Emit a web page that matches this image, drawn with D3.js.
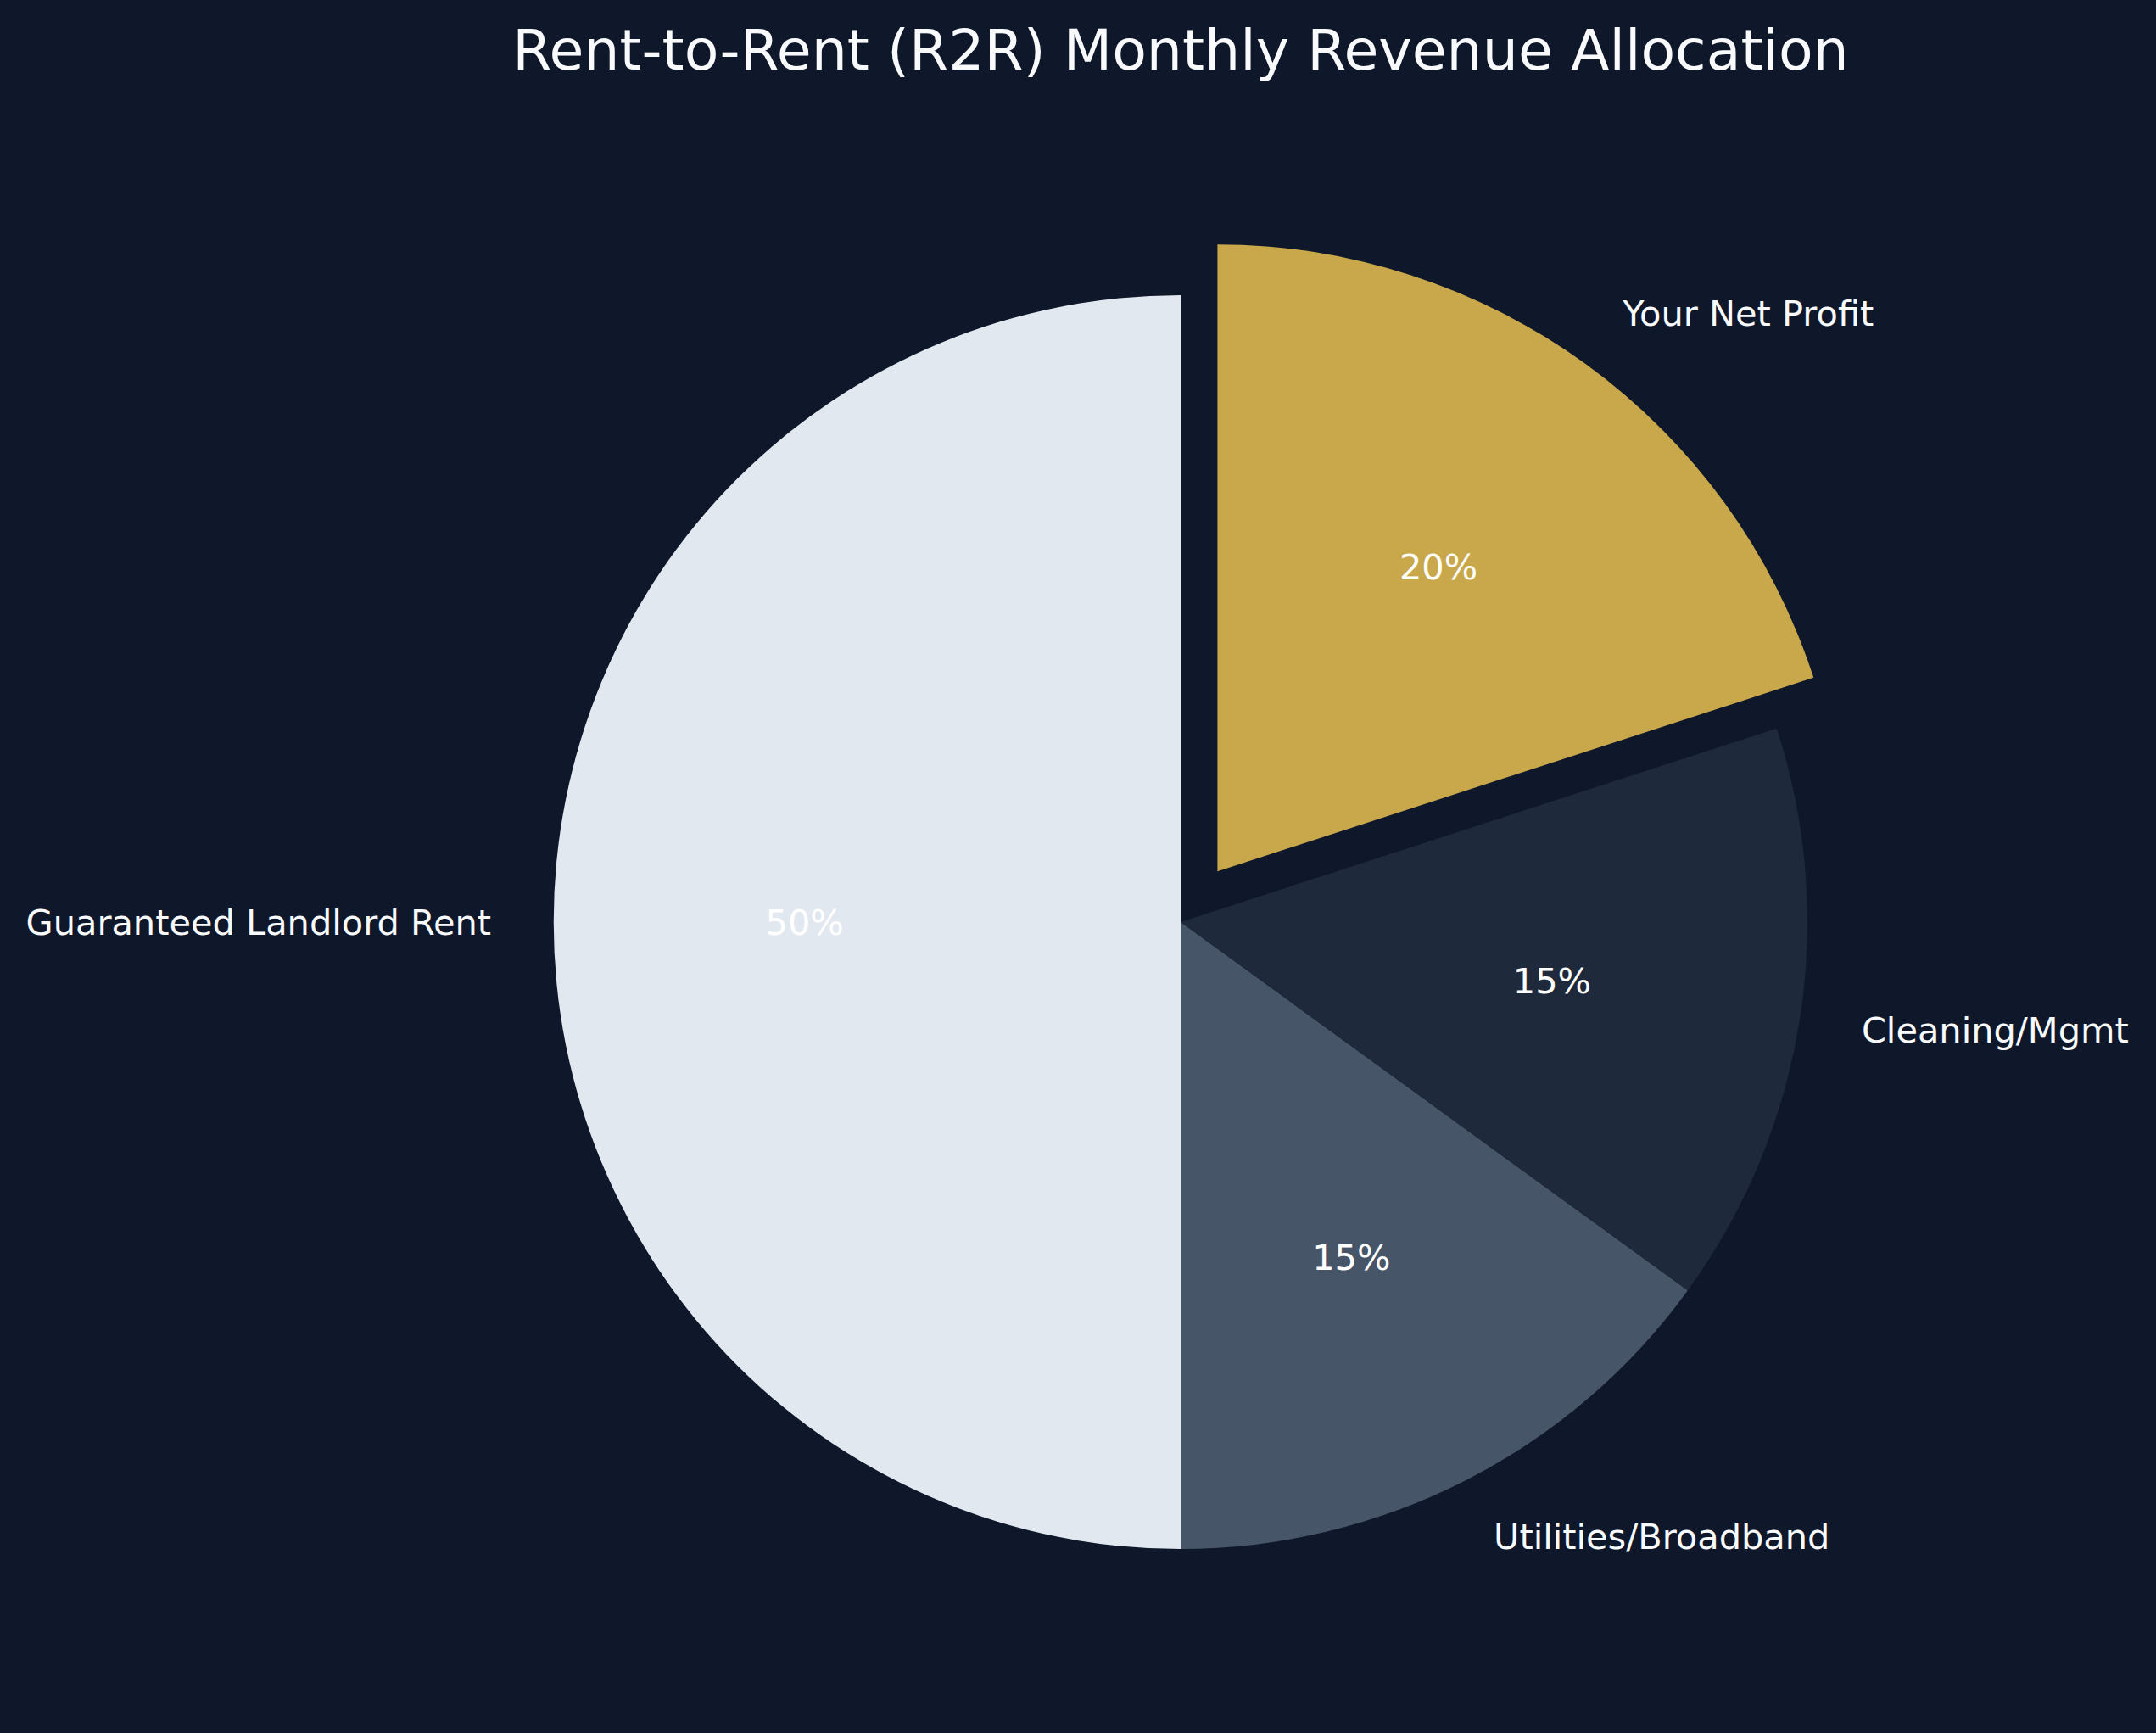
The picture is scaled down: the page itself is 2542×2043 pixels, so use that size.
<!DOCTYPE html>
<html>
<head>
<meta charset="utf-8">
<script src="https://cdn.jsdelivr.net/npm/d3@7"></script>
<style>
  html, body { margin: 0; padding: 0; background: #0f172a; }
  text { font-family: "DejaVu Sans", sans-serif; }
</style>
</head>
<body>
<div id="chart"></div>
<script>
// data
var categories = ["Guaranteed Landlord Rent", "Utilities/Broadband", "Cleaning/Mgmt", "Your Net Profit"];
var shares = [50, 15, 15, 20];
var sliceColors = ["#e2e8f0", "#475569", "#1e293b", "#c9a84b"];
var explodedSlice = "Your Net Profit";

var WIDTH = 2542, HEIGHT = 2043;
var cx = 1392, cy = 1087, radius = 739;

var svg = d3.select("#chart").append("svg")
    .attr("width", WIDTH)
    .attr("height", HEIGHT);

svg.append("rect")
    .attr("width", WIDTH)
    .attr("height", HEIGHT)
    .attr("fill", "#0f172a");

svg.append("text")
    .attr("x", cx)
    .attr("y", 82)
    .attr("text-anchor", "middle")
    .style("font-size", "66.5px")
    .style("fill", "#f8fafc")
    .text("Rent-to-Rent (R2R) Monthly Revenue Allocation");

var rows = categories.map(function(c, i) {
    return {name: c, value: shares[i], color: sliceColors[i]};
});

// start at the top, go counterclockwise like matplotlib
var pie = d3.pie()
    .sort(null)
    .value(function(d) { return d.value; })
    .startAngle(0)
    .endAngle(-2 * Math.PI);

var arc = d3.arc().innerRadius(0).outerRadius(radius);

var g = svg.append("g")
    .attr("transform", "translate(" + cx + "," + cy + ")");

var total = d3.sum(shares);

var slice = g.selectAll(".slice")
    .data(pie(rows))
    .enter().append("g")
    .attr("class", "slice")
    .attr("transform", function(d) {
        var off = d.data.name == explodedSlice ? 0.1 * radius : 0;
        var mid = (d.startAngle + d.endAngle) / 2;
        return "translate(" + (Math.sin(mid) * off) + "," + (-Math.cos(mid) * off) + ")";
    });

slice.append("path")
    .attr("d", arc)
    .attr("fill", function(d) { return d.data.color; });

slice.append("text")
    .attr("x", function(d) {
        var mid = (d.startAngle + d.endAngle) / 2;
        return Math.sin(mid) * radius * 0.6;
    })
    .attr("y", function(d) {
        var mid = (d.startAngle + d.endAngle) / 2;
        return -Math.cos(mid) * radius * 0.6;
    })
    .attr("text-anchor", "middle")
    .attr("dominant-baseline", "central")
    .style("font-size", "41.5px")
    .style("fill", "#ffffff")
    .text(function(d) { return Math.round(d.value / total * 100) + "%"; });

slice.append("text")
    .attr("x", function(d) {
        var mid = (d.startAngle + d.endAngle) / 2;
        return Math.sin(mid) * radius * 1.1;
    })
    .attr("y", function(d) {
        var mid = (d.startAngle + d.endAngle) / 2;
        return -Math.cos(mid) * radius * 1.1;
    })
    .attr("text-anchor", function(d) {
        var mid = (d.startAngle + d.endAngle) / 2;
        return Math.sin(mid) < 0 ? "end" : "start";
    })
    .attr("dominant-baseline", "central")
    .style("font-size", "41.5px")
    .style("fill", "#f8fafc")
    .text(function(d) { return d.data.name; });
</script>
</body>
</html>
